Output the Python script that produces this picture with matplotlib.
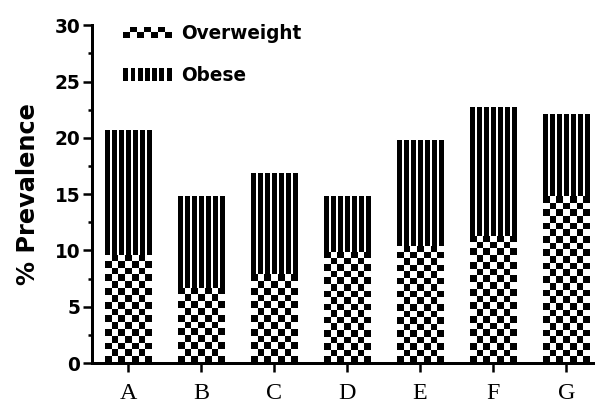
import numpy as np
import matplotlib
matplotlib.use("Agg")
import matplotlib.pyplot as plt
from matplotlib.patches import Patch, Rectangle
from matplotlib.legend_handler import HandlerBase
from matplotlib.ticker import MultipleLocator

groups = ["A", "B", "C", "D", "E", "F", "G"]
overweight = [9.6, 6.7, 7.9, 9.9, 10.4, 11.3, 14.8]
obese = [11.1, 8.1, 9.0, 4.9, 9.4, 11.4, 7.3]

DPI = 72
fig = plt.figure(figsize=(595 / DPI, 407 / DPI), dpi=DPI)
ax = fig.add_axes([0.155, 0.108, 0.842, 0.830])

x = np.arange(len(groups))
w = 0.63

ow_bars = ax.bar(x, overweight, w, color="white", linewidth=0)
ob_bars = ax.bar(x, obese, w, bottom=overweight, color="white", linewidth=0)

ax.set_xlim(-0.49, 6.37)
ax.set_ylim(0, 30)

# 7 black stripes, 2:1 black/white
stripe = np.array([[0, 0, 1] * 6 + [0, 0]], dtype=float)

fig.canvas.draw()
cell = 6.6
for b in ow_bars:
    bb = b.get_window_extent()
    nr = max(1, int(round(bb.height / cell)))
    pat = (np.indices((nr, 7)).sum(axis=0) % 2).astype(float)
    im = ax.imshow(pat, cmap="gray", interpolation="nearest", aspect="auto",
                   extent=(b.get_x(), b.get_x() + b.get_width(), 0, b.get_height()),
                   origin="lower", zorder=2, vmin=0, vmax=1)
    im.set_clip_path(b)
for b in ob_bars:
    y0 = b.get_y()
    im = ax.imshow(stripe, cmap="gray", interpolation="nearest", aspect="auto",
                   extent=(b.get_x(), b.get_x() + b.get_width(), y0, y0 + b.get_height()),
                   origin="lower", zorder=2, vmin=0, vmax=1)
    im.set_clip_path(b)
ax.set_xlim(-0.49, 6.37)
ax.set_ylim(0, 30)


class CheckerHandler(HandlerBase):
    def create_artists(self, legend, orig_handle, xdescent, ydescent,
                       width, height, fontsize, trans):
        arts = []
        nc, nr = 7, 2
        cw, ch = width / nc, height / nr
        for i in range(nr):
            for j in range(nc):
                if (i + j) % 2 == 0:
                    arts.append(Rectangle((-xdescent + j * cw, -ydescent + i * ch),
                                          cw, ch, facecolor="black", linewidth=0,
                                          transform=trans))
        return arts


class StripeHandler(HandlerBase):
    def create_artists(self, legend, orig_handle, xdescent, ydescent,
                       width, height, fontsize, trans):
        arts = []
        n = stripe.shape[1]
        cw = width / n
        hh = height * 1.2
        for j in range(n):
            if stripe[0, j] == 0:
                arts.append(Rectangle((-xdescent + j * cw, -ydescent - (hh - height) / 2),
                                      cw, hh, facecolor="black", linewidth=0,
                                      transform=trans))
        return arts


h_ow = Patch(facecolor="white", label="Overweight")
h_ob = Patch(facecolor="white", label="Obese")
ax.legend(handles=[h_ow, h_ob], loc="upper left", bbox_to_anchor=(0.029, 1.054),
          frameon=False, handlelength=2.6, handleheight=0.55, handletextpad=0.5,
          labelspacing=1.27, borderpad=0.4,
          handler_map={h_ow: CheckerHandler(), h_ob: StripeHandler()},
          prop={"family": "DejaVu Sans", "weight": "bold", "size": 18.5})

for s in ["top", "right"]:
    ax.spines[s].set_visible(False)
for s in ["left", "bottom"]:
    ax.spines[s].set_linewidth(3)

ax.set_xticks(x)
ax.set_xticklabels(groups, family="Liberation Serif", fontsize=24)
ax.yaxis.set_major_locator(MultipleLocator(5))
ax.yaxis.set_minor_locator(MultipleLocator(2.5))
for lab in ax.get_yticklabels():
    lab.set_family("DejaVu Sans")
    lab.set_fontweight("bold")
    lab.set_fontsize(18.5)
ax.tick_params(axis="y", which="major", length=9, width=2.5, pad=3)
ax.tick_params(axis="y", which="minor", length=4, width=2.5)
ax.tick_params(axis="x", which="major", length=9, width=2.5, pad=11)
ax.set_ylabel("% Prevalence", family="DejaVu Sans", fontweight="bold", fontsize=24, labelpad=14)

fig.savefig("out.png", dpi=DPI)
